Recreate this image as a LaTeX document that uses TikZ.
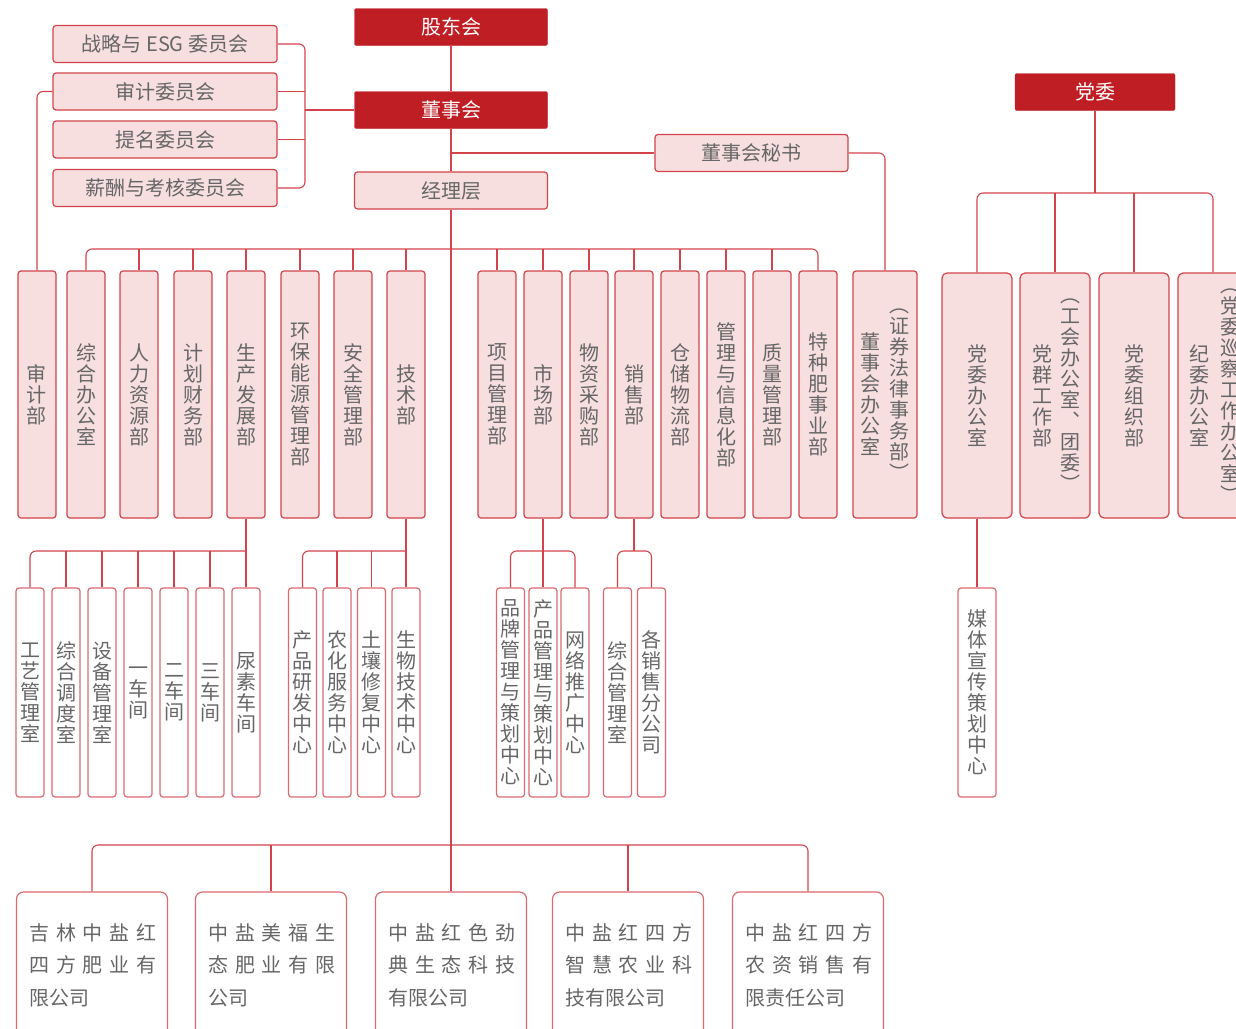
\documentclass[tikz,border=0pt]{standalone}
\usepackage{fontspec}
\newfontfamily\cjk{Noto Sans CJK SC}
\usetikzlibrary{calc}
\definecolor{darkred}{HTML}{BE1E24}
\definecolor{linered}{HTML}{D2434B}
\definecolor{pinkfill}{HTML}{F7DFE0}
\definecolor{txtgray}{HTML}{666666}
\tikzset{
    conn/.style={draw=linered, line width=1.1pt},
    bus/.style={conn, rounded corners=6pt},
    headbox/.style={draw=darkred, fill=darkred, text=white, rounded corners=2pt, minimum width=193pt, minimum height=37pt},
    pinkbox/.style={draw=linered, fill=pinkfill, line width=1.2pt, rounded corners=3pt, minimum width=193pt, minimum height=37pt},
    deptbox/.style={pinkbox, minimum width=38pt, minimum height=247pt, align=center},
    partybox/.style={pinkbox, minimum width=70pt, minimum height=245pt, align=center, rounded corners=5pt},
    subbox/.style={draw=linered!80, fill=white, line width=1.2pt, rounded corners=3pt, minimum width=28pt, minimum height=209pt, align=center},
    cobox/.style={draw=linered!80, fill=white, line width=1.2pt, rounded corners=7pt, minimum width=151pt, minimum height=146pt, align=left, text width=125pt, font=\cjk\fontsize{20}{32.5}\selectfont},
    vlabel/.style={align=center}
}
\newcommand{\spreadline}[1]{\makebox[125pt][s]{#1}}
\begin{document}
\begin{tikzpicture}[x=1pt, y=-1pt]
    \def \yA {394.5}
    \def \yB {692.5}
    \def \yC {965}
    \tikzstyle{every node}=[font=\cjk\fontsize{20}{21}\selectfont, text=txtgray, inner sep=0pt];
    \useasboundingbox (0,0) rectangle (1236,1028);
    \clip (0,0) rectangle (1236,1028);
    % top
    \node[headbox] (gd) at (451,27) {股东会};
    \node[headbox] (dsh) at (451,110) {董事会};
    \node[pinkbox] (jl) at (451,190.5) {经理层};
    \node[pinkbox] (ms) at (751.5,153) {董事会秘书};
    \node[headbox, minimum width=160pt] (dw) at (1095,92) {党委};
    % committees
    \node[pinkbox, minimum width=224pt] (wy1) at (165,44) {战略与 ESG 委员会};
    \node[pinkbox, minimum width=224pt] (wy2) at (165,91.5) {审计委员会};
    \node[pinkbox, minimum width=224pt] (wy3) at (165,139.5) {提名委员会};
    \node[pinkbox, minimum width=224pt] (wy4) at (165,188) {薪酬与考核委员会};
    \coordinate (wyb) at (305,110);
    % departments
    \node[deptbox] (bm1) at (37,\yA) {审\\计\\部};
    \node[deptbox] (bm2) at (86,\yA) {综\\合\\办\\公\\室};
    \node[deptbox] (bm3) at (139,\yA) {人\\力\\资\\源\\部};
    \node[deptbox] (bm4) at (193,\yA) {计\\划\\财\\务\\部};
    \node[deptbox] (bm5) at (246,\yA) {生\\产\\发\\展\\部};
    \node[deptbox] (bm6) at (300,\yA) {环\\保\\能\\源\\管\\理\\部};
    \node[deptbox] (bm7) at (353,\yA) {安\\全\\管\\理\\部};
    \node[deptbox] (bm8) at (406,\yA) {技\\术\\部};
    \node[deptbox] (bm9) at (497,\yA) {项\\目\\管\\理\\部};
    \node[deptbox] (bm10) at (543,\yA) {市\\场\\部};
    \node[deptbox] (bm11) at (589,\yA) {物\\资\\采\\购\\部};
    \node[deptbox] (bm12) at (634,\yA) {销\\售\\部};
    \node[deptbox] (bm13) at (680,\yA) {仓\\储\\物\\流\\部};
    \node[deptbox] (bm14) at (726,\yA) {管\\理\\与\\信\\息\\化\\部};
    \node[deptbox] (bm15) at (772,\yA) {质\\量\\管\\理\\部};
    \node[deptbox] (bm16) at (818,\yA) {特\\种\\肥\\事\\业\\部};
    \node[deptbox, minimum width=64pt] (dbo) at (885,\yA) {};
    \node[vlabel] (dbo-a) at (870,\yA) {董\\事\\会\\办\\公\\室};
    \node[vlabel] (dbo-b) at (899,\yA) {︵\\证\\券\\法\\律\\事\\务\\部\\︶};
    % party
    \node[partybox] (dw1) at (977,395.5) {党\\委\\办\\公\\室};
    \node[partybox] (dw2) at (1055,395.5) {};
    \node[vlabel] (dw2-a) at (1042,395.5) {党\\群\\工\\作\\部};
    \node[vlabel] (dw2-b) at (1070,395.5) {︵\\工\\会\\办\\公\\室\\︑\\团\\委\\︶};
    \node[partybox] (dw3) at (1134,395.5) {党\\委\\组\\织\\部};
    \node[partybox] (dw4) at (1213,395.5) {};
    \node[vlabel] (dw4-a) at (1199,395.5) {纪\\委\\办\\公\\室};
    \node[vlabel] (dw4-b) at (1230,395.5) {︵\\党\\委\\巡\\察\\工\\作\\办\\公\\室\\︶};
    \node[subbox, minimum width=38pt] (mt) at (977,\yB) {媒\\体\\宣\\传\\策\\划\\中\\心};
    % second level
    \node[subbox] (sc1) at (30,\yB) {工\\艺\\管\\理\\室};
    \node[subbox] (sc2) at (66,\yB) {综\\合\\调\\度\\室};
    \node[subbox] (sc3) at (102,\yB) {设\\备\\管\\理\\室};
    \node[subbox] (sc4) at (138,\yB) {一\\车\\间};
    \node[subbox] (sc5) at (174,\yB) {二\\车\\间};
    \node[subbox] (sc6) at (210,\yB) {三\\车\\间};
    \node[subbox] (sc7) at (246,\yB) {尿\\素\\车\\间};
    \node[subbox] (js1) at (302.5,\yB) {产\\品\\研\\发\\中\\心};
    \node[subbox] (js2) at (337,\yB) {农\\化\\服\\务\\中\\心};
    \node[subbox] (js3) at (371.5,\yB) {土\\壤\\修\\复\\中\\心};
    \node[subbox] (js4) at (406,\yB) {生\\物\\技\\术\\中\\心};
    \node[subbox] (mk1) at (510.5,\yB) {品\\牌\\管\\理\\与\\策\\划\\中\\心};
    \node[subbox] (mk2) at (543,\yB) {产\\品\\管\\理\\与\\策\\划\\中\\心};
    \node[subbox] (mk3) at (575,\yB) {网\\络\\推\\广\\中\\心};
    \node[subbox] (xs1) at (617.5,\yB) {综\\合\\管\\理\\室};
    \node[subbox] (xs2) at (651.5,\yB) {各\\销\\售\\分\\公\\司};
    % companies
    \node[cobox] (gs1) at (92,\yC) {\spreadline{吉 林 中 盐 红}\\\spreadline{四 方 肥 业 有}\\限公司};
    \node[cobox] (gs2) at (271,\yC) {\spreadline{中 盐 美 福 生}\\\spreadline{态 肥 业 有 限}\\公司};
    \node[cobox] (gs3) at (451,\yC) {\spreadline{中 盐 红 色 劲}\\\spreadline{典 生 态 科 技}\\有限公司};
    \node[cobox] (gs4) at (628,\yC) {\spreadline{中 盐 红 四 方}\\\spreadline{智 慧 农 业 科}\\技有限公司};
    \node[cobox] (gs5) at (808,\yC) {\spreadline{中 盐 红 四 方}\\\spreadline{农 资 销 售 有}\\限责任公司};
    % buses
    \coordinate (bus1) at (0,249);
    \coordinate (bus2) at (0,551);
    \coordinate (bus3) at (0,845);
    \coordinate (bus4) at (0,193);
    \draw[conn] (gd) -- (dsh);
    \draw[conn] (dsh) -- (jl);
    \draw[conn] (jl.south) -- (gs3.north);
    \draw[conn] (dsh.south |- ms.west) -- (ms.west);
    \draw[bus] (ms.east) -| (dbo.north);
    \draw[bus] (wy1.east) -| (wyb) |- (wy4.east);
    \draw[conn] (wyb) -- (dsh.west);
    \draw[conn] (wy2.east) -- (wy2.east -| wyb);
    \draw[conn] (wy3.east) -- (wy3.east -| wyb);
    \draw[bus] (wy2.west) -| (bm1.north);
    \draw[bus] (bm2.north) |- (bus1 -| jl.south) -| (bm16.north);
    \foreach \n in {3,...,15}
        \draw[conn] (bm\n.north) -- (bm\n.north |- bus1);
    \draw[conn] (bm5.south) -- (sc7.north);
    \draw[bus] (sc1.north) |- (sc7.north |- bus2);
    \foreach \n in {2,...,6}
        \draw[conn] (sc\n.north) -- (sc\n.north |- bus2);
    \draw[conn] (bm8.south) -- (js4.north);
    \draw[bus] (js1.north) |- (js4.north |- bus2);
    \foreach \n in {2,3}
        \draw[conn] (js\n.north) -- (js\n.north |- bus2);
    \draw[conn] (bm10.south) -- (mk2.north);
    \draw[bus] (mk1.north) |- (mk3.north |- bus2) -- (mk3.north);
    \draw[conn] (bm12.south) -- (bm12.south |- bus2);
    \draw[bus] (xs1.north) |- (xs2.north |- bus2) -- (xs2.north);
    \draw[conn] (dw.south) -- (dw.south |- bus4);
    \draw[bus] (dw1.north) |- (dw.south |- bus4) -| (dw4.north);
    \draw[conn] (dw2.north) -- (dw2.north |- bus4);
    \draw[conn] (dw3.north) -- (dw3.north |- bus4);
    \draw[conn] (dw1) -- (mt);
    \draw[bus] (gs1.north) |- (jl.south |- bus3) -| (gs5.north);
    \draw[conn] (gs2.north) -- (gs2.north |- bus3);
    \draw[conn] (gs4.north) -- (gs4.north |- bus3);
\end{tikzpicture}
\end{document}
